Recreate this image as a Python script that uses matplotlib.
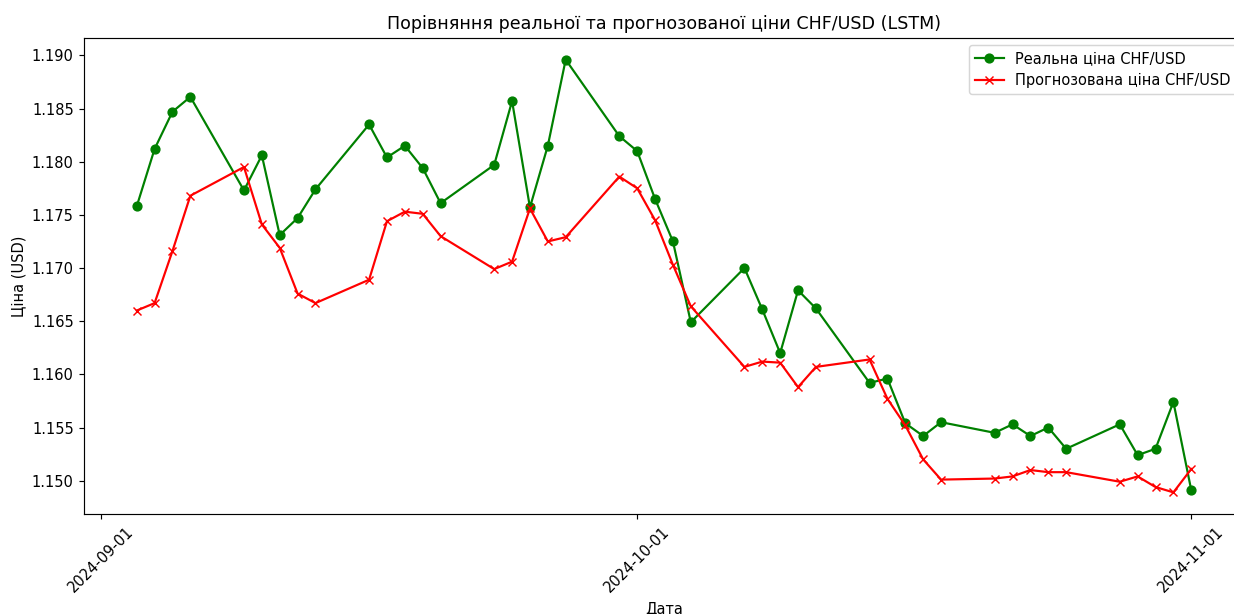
import matplotlib
matplotlib.use("Agg")
import matplotlib.pyplot as plt
import matplotlib.dates as mdates
import pandas as pd

# trading days, Sep 3 - Nov 1 2024
dates = pd.to_datetime([
    "2024-09-03", "2024-09-04", "2024-09-05", "2024-09-06",
    "2024-09-09", "2024-09-10", "2024-09-11", "2024-09-12", "2024-09-13",
    "2024-09-16", "2024-09-17", "2024-09-18", "2024-09-19", "2024-09-20",
    "2024-09-23", "2024-09-24", "2024-09-25", "2024-09-26", "2024-09-27",
    "2024-09-30", "2024-10-01", "2024-10-02", "2024-10-03", "2024-10-04",
    "2024-10-07", "2024-10-08", "2024-10-09", "2024-10-10", "2024-10-11",
    "2024-10-14", "2024-10-15", "2024-10-16", "2024-10-17", "2024-10-18",
    "2024-10-21", "2024-10-22", "2024-10-23", "2024-10-24", "2024-10-25",
    "2024-10-28", "2024-10-29", "2024-10-30", "2024-10-31", "2024-11-01",
])

real = [
    1.1758, 1.1812, 1.1847, 1.1861,
    1.1773, 1.1806, 1.1731, 1.1747, 1.1774,
    1.1835, 1.1804, 1.1815, 1.1794, 1.1761,
    1.1797, 1.1857, 1.1757, 1.1815, 1.1896,
    1.1824, 1.1810, 1.1765, 1.1725, 1.1649,
    1.1700, 1.1661, 1.1620, 1.1679, 1.1662,
    1.1592, 1.1596, 1.1554, 1.1542, 1.1555,
    1.1545, 1.1553, 1.1542, 1.1550, 1.1530,
    1.1553, 1.1524, 1.1530, 1.1574, 1.1491,
]

predicted = [
    1.1660, 1.1667, 1.1716, 1.1768,
    1.1795, 1.1741, 1.1719, 1.1676, 1.1667,
    1.1689, 1.1744, 1.1753, 1.1751, 1.1730,
    1.1699, 1.1706, 1.1756, 1.1725, 1.1729,
    1.1786, 1.1775, 1.1745, 1.1703, 1.1664,
    1.1607, 1.1612, 1.1611, 1.1588, 1.1607,
    1.1614, 1.1577, 1.1552, 1.1520, 1.1501,
    1.1502, 1.1504, 1.1510, 1.1508, 1.1508,
    1.1499, 1.1504, 1.1494, 1.1489, 1.1511,
]

DPI = 105
W, H = 1234, 614
fig = plt.figure(figsize=(W / DPI, H / DPI), dpi=DPI)
# axes box in pixels: left 84, right 1244, top 38, bottom 514
ax = fig.add_axes([84 / W, (H - 514) / H, (1244 - 84) / W, (514 - 38) / H])

ax.plot(dates, real, color="green", marker="o", label="Реальна ціна CHF/USD")
ax.plot(dates, predicted, color="red", marker="x", label="Прогнозована ціна CHF/USD")

ax.xaxis.set_major_locator(mdates.MonthLocator())
ax.xaxis.set_major_formatter(mdates.DateFormatter("%Y-%m-%d"))
plt.setp(ax.get_xticklabels(), rotation=45)
ax.yaxis.set_major_formatter(matplotlib.ticker.FormatStrFormatter("%.3f"))

ax.set_title("Порівняння реальної та прогнозованої ціни CHF/USD (LSTM)")
ax.set_xlabel("Дата")
ax.set_ylabel("Ціна (USD)")
ax.legend(loc="upper right")

fig.savefig("out.png", dpi=DPI)
